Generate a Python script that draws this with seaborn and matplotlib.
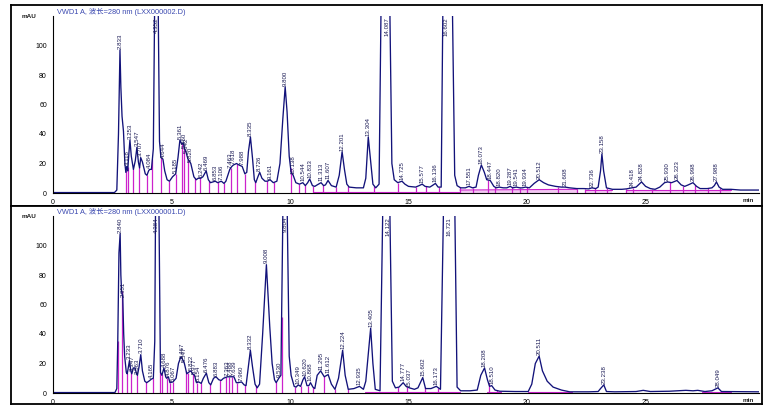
"""
Two-run HPLC chromatogram (VWD1 A, 280 nm), redrawn with seaborn.
"""

import matplotlib

matplotlib.use("Agg")
import matplotlib.pyplot as plt
import numpy as np
import seaborn as sns
from matplotlib.ticker import MultipleLocator

# --- Upper run (LXX000002.D): detector trace ---
TOP_T = [0.00, 2.60, 2.70, 2.77, 2.833, 2.87, 2.92, 2.98, 3.04, 3.08, 3.118, 3.16, 3.20, 3.253,
         3.31, 3.40, 3.48, 3.547, 3.61, 3.66, 3.707, 3.78, 3.90, 3.97, 4.04, 4.084, 4.16, 4.24,
         4.29, 4.352, 4.45, 4.50, 4.56, 4.644, 4.72, 4.82, 4.92, 5.05, 5.185, 5.28, 5.361, 5.44,
         5.50, 5.56, 5.63, 5.70, 5.82, 5.95, 6.05, 6.13, 6.242, 6.33, 6.469, 6.56, 6.65, 6.853,
         6.95, 7.106, 7.22, 7.30, 7.463, 7.55, 7.618, 7.75, 7.85, 7.988, 8.10, 8.18, 8.25, 8.335,
         8.42, 8.50, 8.56, 8.65, 8.726, 8.82, 8.95, 9.05, 9.161, 9.30, 9.45, 9.58, 9.70, 9.80,
         9.88, 9.97, 10.05, 10.138, 10.25, 10.40, 10.544, 10.65, 10.75, 10.833, 10.95, 11.05,
         11.15, 11.313, 11.42, 11.50, 11.607, 11.75, 11.95, 12.08, 12.201, 12.30, 12.40, 12.50,
         12.80, 13.10, 13.20, 13.304, 13.40, 13.50, 13.62, 13.76, 13.84, 14.087, 14.22, 14.30,
         14.40, 14.55, 14.725, 14.85, 15.00, 15.30, 15.45, 15.577, 15.70, 15.90, 16.00, 16.136,
         16.25, 16.38, 16.45, 16.602, 16.86, 16.95, 17.05, 17.20, 17.40, 17.551, 17.70, 17.85,
         17.95, 18.073, 18.20, 18.30, 18.447, 18.60, 18.70, 18.820, 19.00, 19.15, 19.287, 19.40,
         19.541, 19.70, 19.80, 19.934, 20.10, 20.30, 20.512, 20.70, 20.90, 21.20, 21.45, 21.608,
         21.80, 22.10, 22.40, 22.60, 22.736, 22.90, 23.00, 23.10, 23.158, 23.23, 23.35, 23.60,
         24.00, 24.20, 24.418, 24.60, 24.828, 25.00, 25.20, 25.40, 25.60, 25.80, 25.930, 26.10,
         26.323, 26.50, 26.65, 26.80, 26.998, 27.15, 27.30, 27.60, 27.80, 27.90, 27.988, 28.10,
         28.25, 28.60, 29.00, 29.80]
TOP_Y = [0.3, 0.3, 2.0, 40, 97, 72, 52, 42, 20, 14, 18, 15, 25, 36,
         25, 16, 22, 31, 21, 17, 24, 21, 13, 12, 15, 16, 16, 30,
         118, 600, 118, 35, 24, 23, 15, 9, 8, 11, 13, 24, 36, 33,
         34, 30, 27, 23, 20, 11, 9, 10, 10, 11, 15, 9, 7, 8,
         7, 8, 6.5, 8, 16, 18, 19, 20, 19, 18, 13, 14, 28, 38,
         24, 9, 7, 11, 14, 10, 8, 8, 9, 7, 8, 20, 50, 72,
         55, 25, 14, 12, 7, 6, 7, 5, 7, 9.5, 5, 4.5,
         5.5, 7, 5, 5.5, 8.5, 5, 4, 12, 28, 16, 6, 4,
         3.5, 3.5, 10, 38, 22, 6, 3.5, 6, 118, 600, 118, 20,
         9, 7, 8, 6, 4.5, 4, 5, 6, 4.5, 4, 5, 6.5,
         4, 4, 118, 600, 118, 12, 5, 3.5, 3.5, 4.5, 3.5, 4,
         12, 19, 14, 9, 8.5, 4.5, 3.5, 4, 3.5, 3.5, 4.5, 3.5,
         4, 3.5, 3.5, 4, 3.5, 6.5, 9, 7, 5.5, 4.5, 4, 4,
         3.5, 3, 3, 2.8, 3.5, 3, 4, 15, 26.5, 15, 3.5, 2.5,
         2.5, 2.8, 3.5, 4, 7.5, 4.5, 3, 2.5, 4, 7, 7.5, 7,
         8.5, 5.5, 4.5, 5.5, 7, 4.5, 3, 3, 3.5, 5, 7.5, 4,
         2.5, 2.5, 2, 2]
TOP_LABELS = [2.833, 3.118, 3.253, 3.547, 3.707, 4.084, 4.352, 4.644, 5.185, 5.361, 5.560,
              5.642, 5.820, 6.242, 6.469, 6.853, 7.106, 7.463, 7.618, 7.988, 8.335, 8.726,
              9.161, 9.800, 10.138, 10.544, 10.833, 11.313, 11.607, 12.201, 13.304, 14.087,
              14.725, 15.577, 16.136, 16.602, 17.551, 18.073, 18.447, 18.820, 19.287, 19.541,
              19.934, 20.512, 21.608, 22.736, 23.158, 24.418, 24.828, 25.930, 26.323, 26.998,
              27.988]
TOP_DROPS = [3.07, 3.17, 3.40, 3.65, 3.96, 4.20, 4.58, 4.88, 5.18, 5.44, 5.55, 5.70, 5.99,
             6.21, 6.60, 6.98, 7.20, 7.50, 7.78, 8.11, 8.53, 9.02, 9.33, 10.03, 10.40, 10.64,
             10.99, 11.41, 11.95, 12.46, 13.56, 14.55, 15.32, 15.73, 16.29, 17.17, 17.71,
             18.34, 18.65, 19.35, 19.70, 19.99, 21.32, 22.12, 22.45, 22.87, 23.36, 24.18,
             24.48, 25.26, 26.03, 26.57, 27.09, 27.65, 28.14]
TOP_BASE_T0 = [10.99, 17.17, 22.45, 24.18]
TOP_BASE_T1 = [17.17, 22.12, 23.60, 28.60]
TOP_BASE_Y0 = [0.6, 2.0, 1.8, 1.8]
TOP_BASE_Y1 = [0.6, 2.5, 1.8, 1.8]

# --- Lower run (LXX000001.D) ---
BOT_T = [0.00, 2.62, 2.70, 2.74, 2.79, 2.840, 2.87, 2.90, 2.95, 2.99, 3.03, 3.10, 3.14, 3.233,
         3.29, 3.33, 3.40, 3.47, 3.53, 3.57, 3.64, 3.710, 3.78, 3.88, 3.96, 4.05, 4.165, 4.24,
         4.30, 4.33, 4.384, 4.48, 4.54, 4.60, 4.688, 4.76, 4.80, 4.876, 4.94, 5.067, 5.20, 5.30,
         5.40, 5.467, 5.55, 5.65, 5.72, 5.822, 5.90, 5.977, 6.06, 6.154, 6.26, 6.35, 6.476, 6.58,
         6.66, 6.78, 6.883, 7.00, 7.10, 7.20, 7.363, 7.488, 7.639, 7.74, 7.82, 7.960, 8.07, 8.15,
         8.25, 8.332, 8.42, 8.53, 8.62, 8.72, 8.85, 9.008, 9.15, 9.25, 9.35, 9.42, 9.530, 9.62,
         9.70, 9.80, 9.89, 9.97, 10.05, 10.18, 10.26, 10.349, 10.45, 10.55, 10.620, 10.72, 10.80,
         10.868, 10.97, 11.05, 11.15, 11.295, 11.45, 11.612, 11.75, 11.90, 12.05, 12.224, 12.33,
         12.46, 12.70, 12.935, 13.10, 13.20, 13.405, 13.50, 13.60, 13.80, 13.91, 14.122, 14.22,
         14.32, 14.45, 14.60, 14.777, 14.90, 15.037, 15.25, 15.40, 15.602, 15.72, 15.95, 16.173,
         16.35, 16.47, 16.721, 16.96, 17.05, 17.20, 17.60, 17.90, 18.05, 18.208, 18.33, 18.42,
         18.510, 18.65, 18.85, 19.50, 20.05, 20.20, 20.35, 20.511, 20.65, 20.85, 21.10, 21.45,
         21.80, 22.60, 23.00, 23.10, 23.238, 23.35, 23.70, 24.60, 24.90, 25.20, 26.00, 26.70,
         27.00, 27.20, 27.50, 27.80, 28.049, 28.20, 29.80]
BOT_Y = [0.3, 0.3, 3, 35, 95, 108, 80, 69, 65, 40, 25, 14, 13, 22,
         15, 13, 17, 17, 13, 12, 18, 26, 15, 8, 7, 8, 9.5, 10,
         35, 118, 600, 118, 14, 12, 17, 11, 10, 11, 7, 7.5, 10, 20,
         24.5, 23, 20, 13, 14, 15, 13, 12, 7, 7.5, 6.5, 10, 13.5, 7,
         5.5, 10, 11, 9, 8.5, 10, 11, 11, 11, 7, 7, 7.5, 5.5, 5,
         18, 29, 18, 6, 3.5, 6, 40, 87, 45, 20, 9, 7, 10, 12,
         118, 600, 118, 25, 12, 4.5, 4, 5.5, 4.5, 9, 11, 5, 5,
         7, 4, 3, 12, 15, 11, 12.5, 6, 2.5, 10, 29, 12,
         2.5, 3, 4.5, 2.5, 8, 44, 20, 2.5, 1.5, 118, 600, 118,
         8, 3.5, 4, 7, 4.5, 3.5, 2.5, 3.5, 10.5, 3, 3, 4.5,
         2.5, 118, 600, 118, 4, 1.5, 1.5, 2, 12, 17, 9, 4.5,
         5, 2, 1.2, 1, 1, 6, 20, 25, 15, 8, 4, 2,
         0.8, 0.8, 1, 3, 5.5, 1, 0.8, 1, 1.8, 1, 1.2, 1.8,
         1.5, 1.8, 1, 1.5, 3.5, 1, 0.8]
BOT_LABELS = [2.840, 2.951, 3.233, 3.347, 3.563, 3.710, 4.165, 4.384, 4.688, 4.876, 5.067,
              5.467, 5.547, 5.822, 5.977, 6.154, 6.476, 6.883, 7.363, 7.488, 7.639, 7.960,
              8.332, 9.008, 9.530, 9.804, 10.349, 10.620, 10.868, 11.295, 11.612, 12.224,
              12.935, 13.405, 14.122, 14.777, 15.037, 15.602, 16.173, 16.721, 18.208, 18.510,
              20.511, 23.238, 28.049]
BOT_DROPS = [2.74, 2.90, 3.12, 3.31, 3.55, 3.94, 4.24, 4.54, 4.62, 4.80, 4.94, 5.05, 5.62,
             5.70, 5.90, 6.08, 6.27, 6.64, 7.05, 7.30, 7.42, 7.56, 7.76, 8.10, 8.55, 9.41,
             9.65, 10.21, 10.45, 10.75, 10.99, 11.44, 11.90, 12.46, 14.57, 14.93, 15.70,
             16.26, 18.38, 18.72]
BOT_BASE_T0 = [13.17, 18.30, 20.05, 27.40]
BOT_BASE_T1 = [17.17, 18.90, 21.90, 28.60]
BOT_BASE_Y0 = [1.0, 1.0, 1.0, 1.0]
BOT_BASE_Y1 = [1.0, 1.0, 1.0, 1.0]

TRACE = "#12127a"
MAGENTA = "#cc22cc"
PINK = "#f3c8f3"
W, H = 769, 412
LABEL_FONT = ["Liberation Sans Narrow", "Liberation Sans"]


def px_rect(x0, y0, x1, y1):
    # pixel box (top-left origin) -> figure fraction rect
    return [x0 / W, 1 - y1 / H, (x1 - x0) / W, (y1 - y0) / H]


def draw_panel(fig, frame_box, data_box, title, t, y, labels, drops, b0, b1, by0, by1):
    frame = fig.add_axes(px_rect(*frame_box))
    frame.set_xticks([])
    frame.set_yticks([])
    for sp in frame.spines.values():
        sp.set_linewidth(1.3)
        sp.set_color("black")
    frame.text(46 / 751, 1 - 2.5 / 200, title, transform=frame.transAxes, ha="left", va="top",
               fontsize=5.3, color="#3a48b0",
               family=["Liberation Sans", "Noto Sans CJK SC", "DejaVu Sans"])

    ax = fig.add_axes(px_rect(*data_box))
    ax.set_facecolor("none")
    t = np.asarray(t)
    y = np.asarray(y)

    # integration baselines with light fill underneath
    for s, e, ys, ye in zip(b0, b1, by0, by1):
        ax.fill_between([s, e], [0, 0], [ys, ye], color=PINK, lw=0)
        ax.plot([s, e], [ys, ye], color=MAGENTA, lw=0.8)

    # peak boundary drop lines
    d = np.asarray(drops)
    ax.vlines(d, 0, np.interp(d, t, y), color=MAGENTA, lw=0.9)

    sns.lineplot(x=t, y=y, ax=ax, color=TRACE, linewidth=0.95, estimator=None, sort=False)

    for lt in labels:
        h = np.interp(lt, t, y)
        if h > 120:
            ax.text(lt, 119.3, f"{lt:.3f}", rotation=90, ha="center", va="top", fontsize=4.4,
                    color="#1a1a55", family=LABEL_FONT)
        else:
            ax.text(lt, h + 0.8, f"{lt:.3f}", rotation=90, ha="center", va="bottom",
                    fontsize=4.4, color="#1a1a55", family=LABEL_FONT)

    ax.set_xlim(0, 29.8)
    ax.set_ylim(0, 120)
    ax.set_xlabel("")
    ax.set_ylabel("")
    ax.set_yticks([0, 20, 40, 60, 80, 100])
    ax.set_xticks([0, 5, 10, 15, 20, 25])
    ax.yaxis.set_minor_locator(MultipleLocator(5))
    ax.xaxis.set_minor_locator(MultipleLocator(1))
    ax.tick_params(which="major", length=3, width=0.7, pad=1.2, labelsize=5, colors="black")
    ax.tick_params(which="minor", length=1.5, width=0.6)
    sns.despine(ax=ax)
    for side in ("left", "bottom"):
        ax.spines[side].set_linewidth(0.8)
        ax.spines[side].set_color("black")
    ax.text(-0.033, 1.0, "mAU", transform=ax.transAxes, ha="center", va="center",
            fontsize=4.6, fontweight="bold", color="#222222")
    ax.text(0.985, -0.04, "min", transform=ax.transAxes, ha="center", va="center",
            fontsize=4.6, fontweight="bold", color="#222222")
    return ax


sns.set_theme(style="white")
plt.rcParams["font.family"] = ["Liberation Sans", "Noto Sans CJK SC", "DejaVu Sans"]

fig = plt.figure(figsize=(W / 100, H / 100), dpi=100)
fig.patch.set_facecolor("white")

draw_panel(fig, (11, 5, 762, 206), (52.8, 16, 759.4, 193),
           "VWD1 A, 波长=280 nm (LXX000002.D)",
           TOP_T, TOP_Y, TOP_LABELS, TOP_DROPS,
           TOP_BASE_T0, TOP_BASE_T1, TOP_BASE_Y0, TOP_BASE_Y1)
draw_panel(fig, (11, 206, 762, 404), (52.8, 216, 759.4, 393),
           "VWD1 A, 波长=280 nm (LXX000001.D)",
           BOT_T, BOT_Y, BOT_LABELS, BOT_DROPS,
           BOT_BASE_T0, BOT_BASE_T1, BOT_BASE_Y0, BOT_BASE_Y1)

fig.savefig("out.png", dpi=100)
